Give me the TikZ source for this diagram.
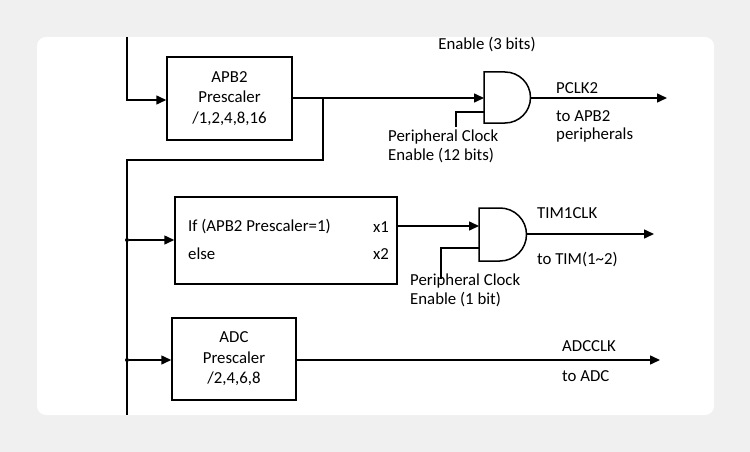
\documentclass[tikz,border=0pt]{standalone}
\usepackage{fontspec}
\setmainfont{Carlito}
\usetikzlibrary{arrows.meta}
\begin{document}
\begin{tikzpicture}[x=1pt,y=-1pt,
  wire/.style={line width=1.5pt},
  arr/.style={wire,-{Triangle[length=10pt,width=9pt]}},
  blk/.style={draw,line width=1.5pt,inner sep=0pt},
  lbl/.style={font=\fontsize{16.8}{18.5}\selectfont,align=left,inner sep=0pt},
  dotc/.style={circle,fill,inner sep=0pt,minimum size=4pt}]
\useasboundingbox (0,0) rectangle (750,452);
\fill[gray!12] (0,0) rectangle (750,452);
\fill[white,rounded corners=9pt] (37,37) rectangle (714,415);
% APB2 box
\node[blk,minimum width=125pt,minimum height=83pt,lbl,align=center] (apb) at (229.5,98.5) {APB2\\[2pt]Prescaler\\[2pt]/1,2,4,8,16};
\coordinate (top) at (127,37);
\coordinate (c1) at (127,100);
\draw[arr] (top) -- (c1) -- (apb.west |- c1);
% gate 1
\draw[wire] (484,72) -- (505,72) arc[start angle=-90,end angle=90,radius=25.5] -- (484,123) -- cycle;
\node[lbl] (en3) at (487,45) {Enable (3 bits)};
\coordinate (g1in) at (484,98);
\coordinate (br) at (323,98);
\draw[arr] (apb.east |- br) -- (br) -- (g1in);
\coordinate (g1o) at (530.5,98);
\coordinate (g1e) at (667,98);
\draw[arr] (g1o) -- (g1e);
\node[lbl,anchor=west] (pclk) at (556,88) {PCLK2};
\node[lbl,anchor=north west] (tapb) at (556,110) {to APB2\\peripherals};
\coordinate (p1) at (456,127);
\draw[wire] (p1) -- (456,112) -- (484,112);
\node[lbl,anchor=north west] (pc1) at (388,130) {Peripheral Clock\\Enable (12 bits)};
% bus
\coordinate (b1) at (323,160);
\coordinate (b2) at (127,160);
\coordinate (bot) at (127,415);
\draw[wire] (br) -- (b1) -- (b2) -- (bot);
% box 2
\node[blk,minimum width=222pt,minimum height=87pt] (ifb) at (286,240.5) {};
\node[lbl,anchor=west] (t1) at (188,227) {If (APB2 Prescaler=1)};
\node[lbl,anchor=east] (t2) at (389,227) {x1};
\node[lbl,anchor=west] (t3) at (188,254) {else};
\node[lbl,anchor=east] (t4) at (389,254) {x2};
\node[dotc] (d1) at (127,240) {};
\draw[arr] (d1) -- (ifb.west |- d1);
% gate 2
\draw[wire] (479,208) -- (500,208) arc[start angle=-90,end angle=90,radius=26.5] -- (479,261) -- cycle;
\coordinate (g2in) at (479,226);
\draw[arr] (ifb.east |- g2in) -- (g2in);
\coordinate (g2o) at (526.5,234);
\coordinate (g2e) at (654,234);
\draw[arr] (g2o) -- (g2e);
\node[lbl,anchor=west] (tim) at (537,213) {TIM1CLK};
\node[lbl,anchor=west] (ttim) at (537,260) {to TIM(1\~{}2)};
\coordinate (p2) at (441,279);
\draw[wire] (p2) -- (441,248) -- (479,248);
\node[lbl,anchor=north west] (pc2) at (410,274) {Peripheral Clock\\Enable (1 bit)};
% ADC box
\node[blk,minimum width=124pt,minimum height=82pt,lbl,align=center] (adc) at (234,359) {ADC\\[2pt]Prescaler\\[2pt]/2,4,6,8};
\node[dotc] (d2) at (127,360) {};
\draw[arr] (d2) -- (adc.west |- d2);
\coordinate (ae) at (660,360);
\draw[arr] (adc.east |- ae) -- (ae);
\node[lbl,anchor=west] (aclk) at (562,346) {ADCCLK};
\node[lbl,anchor=west] (tadc) at (562,376) {to ADC};
\end{tikzpicture}
\end{document}
